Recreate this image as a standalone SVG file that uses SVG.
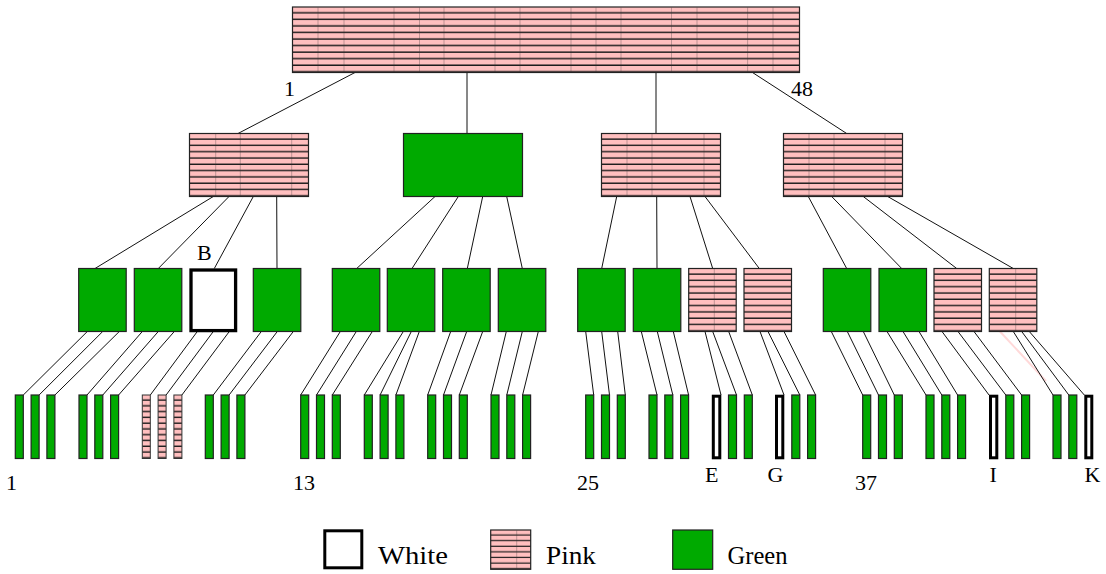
<svg xmlns="http://www.w3.org/2000/svg" width="1106" height="574" viewBox="0 0 1106 574">
<defs>
<pattern id="s10" patternUnits="objectBoundingBox" patternContentUnits="objectBoundingBox" width="1" height="0.1">
<rect width="1" height="0.1" fill="#ffbfbf"/><rect y="0.078" width="1" height="0.022" fill="#1a1a1a"/>
</pattern>
<pattern id="s11" patternUnits="objectBoundingBox" patternContentUnits="objectBoundingBox" width="1" height="0.090909">
<rect width="1" height="0.090909" fill="#ffbfbf"/><rect y="0.068909" width="1" height="0.022" fill="#1a1a1a"/>
</pattern>
<pattern id="s7" patternUnits="objectBoundingBox" patternContentUnits="objectBoundingBox" width="1" height="0.142857">
<rect width="1" height="0.142857" fill="#ffbfbf"/><rect y="0.112857" width="1" height="0.03" fill="#1a1a1a"/>
</pattern>
</defs>
<style>
.g{fill:#00aa00;stroke:#222;stroke-width:1.2}
.p{fill:url(#s10);stroke:#222;stroke-width:1.2}
.pl{fill:url(#s11);stroke:#333;stroke-width:1}
.w{fill:#fff;stroke:#000;stroke-width:3}
.c line{stroke:#111;stroke-width:1}
.tk line{stroke:#333;stroke-width:1;opacity:.3}
text{font-family:"Liberation Serif","Times New Roman",serif;font-size:22px;fill:#000}
</style>
<rect width="1106" height="574" fill="#fff"/>

<g id="connectors" class="c">
<line x1="355" y1="72.5" x2="238" y2="133.5"/>
<line x1="467" y1="72.5" x2="467" y2="133.5"/>
<line x1="656" y1="72.5" x2="656" y2="133.5"/>
<line x1="752.5" y1="72.5" x2="846.7" y2="133.5"/>

<line x1="213.3" y1="196.5" x2="95" y2="268.5"/>
<line x1="229" y1="196.5" x2="158.3" y2="268.5"/>
<line x1="253.3" y1="196.5" x2="214.3" y2="268.5"/>
<line x1="276.7" y1="196.5" x2="277" y2="268.5"/>
<line x1="435" y1="196.5" x2="356.7" y2="268.5"/>
<line x1="458.3" y1="196.5" x2="412" y2="268.5"/>
<line x1="482.7" y1="196.5" x2="467.3" y2="268.5"/>
<line x1="506.7" y1="196.5" x2="522.3" y2="268.5"/>
<line x1="616.7" y1="196.5" x2="601.7" y2="268.5"/>
<line x1="656.7" y1="196.5" x2="657" y2="268.5"/>
<line x1="690" y1="196.5" x2="712.7" y2="268.5"/>
<line x1="705" y1="196.5" x2="759.3" y2="268.5"/>
<line x1="808.3" y1="196.5" x2="846.7" y2="268.5"/>
<line x1="831.7" y1="196.5" x2="901.7" y2="268.5"/>
<line x1="863.3" y1="196.5" x2="956.7" y2="268.5"/>
<line x1="887.7" y1="196.5" x2="1013.3" y2="268.5"/>

<line x1="87.3" y1="331.5" x2="23.3" y2="395"/>
<line x1="102.7" y1="331.5" x2="39.1" y2="395"/>
<line x1="119.3" y1="331.5" x2="54.9" y2="395"/>
<line x1="142.3" y1="331.5" x2="87" y2="395"/>
<line x1="158.3" y1="331.5" x2="102.8" y2="395"/>
<line x1="174.3" y1="331.5" x2="118.6" y2="395"/>
<line x1="197.3" y1="331.5" x2="150.3" y2="395"/>
<line x1="213.3" y1="331.5" x2="166.1" y2="395"/>
<line x1="229.3" y1="331.5" x2="181.9" y2="395"/>
<line x1="261.3" y1="331.5" x2="213.3" y2="395"/>
<line x1="277.3" y1="331.5" x2="229.1" y2="395"/>
<line x1="293.3" y1="331.5" x2="244.9" y2="395"/>

<line x1="340.3" y1="331.5" x2="300.7" y2="395"/>
<line x1="356.3" y1="331.5" x2="316.5" y2="395"/>
<line x1="372.3" y1="331.5" x2="332.3" y2="395"/>
<line x1="403.3" y1="331.5" x2="364.3" y2="395"/>
<line x1="411.3" y1="331.5" x2="380.1" y2="395"/>
<line x1="419.3" y1="331.5" x2="395.9" y2="395"/>
<line x1="450.7" y1="331.5" x2="427.7" y2="395"/>
<line x1="466.7" y1="331.5" x2="443.5" y2="395"/>
<line x1="482.7" y1="331.5" x2="459.3" y2="395"/>
<line x1="506.3" y1="331.5" x2="491" y2="395"/>
<line x1="522.3" y1="331.5" x2="506.8" y2="395"/>
<line x1="538.3" y1="331.5" x2="522.6" y2="395"/>

<line x1="585.7" y1="331.5" x2="593.7" y2="395"/>
<line x1="601.7" y1="331.5" x2="609.5" y2="395"/>
<line x1="617.7" y1="331.5" x2="625.3" y2="395"/>
<line x1="641.3" y1="331.5" x2="657" y2="395"/>
<line x1="657.3" y1="331.5" x2="672.8" y2="395"/>
<line x1="673.3" y1="331.5" x2="688.6" y2="395"/>
<line x1="705" y1="331.5" x2="721" y2="395"/>
<line x1="712.7" y1="331.5" x2="736.5" y2="395"/>
<line x1="728.7" y1="331.5" x2="752.3" y2="395"/>
<line x1="760" y1="331.5" x2="784" y2="395"/>
<line x1="768" y1="331.5" x2="799.8" y2="395"/>
<line x1="784" y1="331.5" x2="815.6" y2="395"/>

<line x1="831.3" y1="331.5" x2="862.7" y2="395"/>
<line x1="847.3" y1="331.5" x2="878.5" y2="395"/>
<line x1="863.3" y1="331.5" x2="894.3" y2="395"/>
<line x1="887" y1="331.5" x2="926" y2="395"/>
<line x1="903" y1="331.5" x2="941.8" y2="395"/>
<line x1="919" y1="331.5" x2="957.6" y2="395"/>
<line x1="942" y1="331.5" x2="989" y2="395"/>
<line x1="958" y1="331.5" x2="1005.8" y2="395"/>
<line x1="974" y1="331.5" x2="1021.6" y2="395"/>
<line x1="1000" y1="331.5" x2="1046" y2="381" style="stroke:#ffd9d9;stroke-width:2"/>
<line x1="1013.3" y1="331.5" x2="1053" y2="395"/>
<line x1="1021.7" y1="331.5" x2="1068.8" y2="395"/>
<line x1="1029.3" y1="331.5" x2="1084.3" y2="395"/>
</g>

<g id="root">
<rect class="p" x="292.5" y="7" width="507" height="65.5"/>
<g class="tk"><line x1="318" y1="7.5" x2="318" y2="72"/><line x1="344" y1="7.5" x2="344" y2="72"/><line x1="394" y1="7.5" x2="394" y2="72"/><line x1="419.5" y1="7.5" x2="419.5" y2="72"/><line x1="444" y1="7.5" x2="444" y2="72"/><line x1="495" y1="7.5" x2="495" y2="72"/><line x1="520" y1="7.5" x2="520" y2="72"/><line x1="571" y1="7.5" x2="571" y2="72"/><line x1="596" y1="7.5" x2="596" y2="72"/><line x1="621" y1="7.5" x2="621" y2="72"/><line x1="671.5" y1="7.5" x2="671.5" y2="72"/><line x1="697" y1="7.5" x2="697" y2="72"/><line x1="747.6" y1="7.5" x2="747.6" y2="72"/><line x1="773" y1="7.5" x2="773" y2="72"/></g>
<text x="284" y="96">1</text>
<text x="791" y="96">48</text>
</g>

<g id="n2a"><rect class="p" x="189.5" y="133.5" width="119" height="63"/>
<g class="tk"><line x1="215.7" y1="134" x2="215.7" y2="196"/><line x1="240.3" y1="134" x2="240.3" y2="196"/><line x1="291.7" y1="134" x2="291.7" y2="196"/></g></g>
<g id="n2b"><rect class="g" x="403.5" y="133.5" width="119" height="63"/></g>
<g id="n2c"><rect class="p" x="601.5" y="133.5" width="119" height="63"/>
<g class="tk"><line x1="627" y1="134" x2="627" y2="196"/><line x1="652" y1="134" x2="652" y2="196"/><line x1="704" y1="134" x2="704" y2="196"/></g></g>
<g id="n2d"><rect class="p" x="783.5" y="133.5" width="119" height="63"/>
<g class="tk"><line x1="809" y1="134" x2="809" y2="196"/><line x1="834" y1="134" x2="834" y2="196"/><line x1="885" y1="134" x2="885" y2="196"/></g></g>

<g id="n3a1"><rect class="g" x="78.7" y="268.5" width="47.5" height="63"/></g>
<g id="n3a2"><rect class="g" x="134.3" y="268.5" width="47.5" height="63"/></g>
<g id="n3a3"><rect class="w" x="191" y="270" width="44.6" height="60.6" style="stroke-width:3.3"/><text x="197" y="260">B</text></g>
<g id="n3a4"><rect class="g" x="253.3" y="268.5" width="47.5" height="63"/></g>
<g id="n3b1"><rect class="g" x="332.3" y="268.5" width="47.5" height="63"/></g>
<g id="n3b2"><rect class="g" x="387.3" y="268.5" width="47.5" height="63"/></g>
<g id="n3b3"><rect class="g" x="442.7" y="268.5" width="47.5" height="63"/></g>
<g id="n3b4"><rect class="g" x="498.3" y="268.5" width="47.5" height="63"/></g>
<g id="n3c1"><rect class="g" x="577.7" y="268.5" width="47.5" height="63"/></g>
<g id="n3c2"><rect class="g" x="633.3" y="268.5" width="47.5" height="63"/></g>
<g id="n3c3"><rect class="p" x="688.7" y="268.5" width="47.5" height="63"/><g class="tk"><line x1="714.3" y1="269" x2="714.3" y2="331"/></g></g>
<g id="n3c4"><rect class="p" x="744" y="268.5" width="47.5" height="63"/></g>
<g id="n3d1"><rect class="g" x="823.3" y="268.5" width="47.5" height="63"/></g>
<g id="n3d2"><rect class="g" x="879" y="268.5" width="47.5" height="63"/></g>
<g id="n3d3"><rect class="p" x="934" y="268.5" width="47.5" height="63"/></g>
<g id="n3d4"><rect class="p" x="989.3" y="268.5" width="47.5" height="63"/><g class="tk"><line x1="1015.7" y1="269" x2="1015.7" y2="331"/></g></g>

<g id="leaves">
<g id="la1"><rect class="g" x="15.3" y="395" width="8" height="63.5"/><rect class="g" x="31.1" y="395" width="8" height="63.5"/><rect class="g" x="46.9" y="395" width="8" height="63.5"/></g>
<g id="la2"><rect class="g" x="79" y="395" width="8" height="63.5"/><rect class="g" x="94.8" y="395" width="8" height="63.5"/><rect class="g" x="110.6" y="395" width="8" height="63.5"/></g>
<g id="la3"><rect class="pl" x="142.3" y="395" width="8" height="63.5"/><rect class="pl" x="158.1" y="395" width="8" height="63.5"/><rect class="pl" x="173.9" y="395" width="8" height="63.5"/></g>
<g id="la4"><rect class="g" x="205.3" y="395" width="8" height="63.5"/><rect class="g" x="221.1" y="395" width="8" height="63.5"/><rect class="g" x="236.9" y="395" width="8" height="63.5"/></g>
<g id="lb1"><rect class="g" x="300.7" y="395" width="8" height="63.5"/><rect class="g" x="316.5" y="395" width="8" height="63.5"/><rect class="g" x="332.3" y="395" width="8" height="63.5"/></g>
<g id="lb2"><rect class="g" x="364.3" y="395" width="8" height="63.5"/><rect class="g" x="380.1" y="395" width="8" height="63.5"/><rect class="g" x="395.9" y="395" width="8" height="63.5"/></g>
<g id="lb3"><rect class="g" x="427.7" y="395" width="8" height="63.5"/><rect class="g" x="443.5" y="395" width="8" height="63.5"/><rect class="g" x="459.3" y="395" width="8" height="63.5"/></g>
<g id="lb4"><rect class="g" x="491" y="395" width="8" height="63.5"/><rect class="g" x="506.8" y="395" width="8" height="63.5"/><rect class="g" x="522.6" y="395" width="8" height="63.5"/></g>
<g id="lc1"><rect class="g" x="585.7" y="395" width="8" height="63.5"/><rect class="g" x="601.5" y="395" width="8" height="63.5"/><rect class="g" x="617.3" y="395" width="8" height="63.5"/></g>
<g id="lc2"><rect class="g" x="649" y="395" width="8" height="63.5"/><rect class="g" x="664.8" y="395" width="8" height="63.5"/><rect class="g" x="680.6" y="395" width="8" height="63.5"/></g>
<g id="lc3"><rect class="w" x="713.3" y="396.2" width="6.5" height="61.6"/><rect class="g" x="728.5" y="395" width="8" height="63.5"/><rect class="g" x="744.3" y="395" width="8" height="63.5"/></g>
<g id="lc4"><rect class="w" x="776.5" y="396.2" width="6.3" height="61.6"/><rect class="g" x="791.8" y="395" width="8" height="63.5"/><rect class="g" x="807.6" y="395" width="8" height="63.5"/></g>
<g id="ld1"><rect class="g" x="862.7" y="395" width="8" height="63.5"/><rect class="g" x="878.5" y="395" width="8" height="63.5"/><rect class="g" x="894.3" y="395" width="8" height="63.5"/></g>
<g id="ld2"><rect class="g" x="926" y="395" width="8" height="63.5"/><rect class="g" x="941.8" y="395" width="8" height="63.5"/><rect class="g" x="957.6" y="395" width="8" height="63.5"/></g>
<g id="ld3"><rect class="w" x="990.5" y="396.2" width="6.3" height="61.6"/><rect class="g" x="1005.8" y="395" width="8" height="63.5"/><rect class="g" x="1021.6" y="395" width="8" height="63.5"/></g>
<g id="ld4"><rect class="g" x="1053" y="395" width="8" height="63.5"/><rect class="g" x="1068.8" y="395" width="8" height="63.5"/><rect class="w" x="1085.8" y="396.2" width="6" height="61.6"/></g>
</g>

<g id="leaf-labels">
<text x="6" y="490">1</text>
<text x="293" y="490">13</text>
<text x="577" y="490">25</text>
<text x="855" y="490">37</text>
<text x="705" y="481.5">E</text>
<text x="767.5" y="481.5">G</text>
<text x="989.5" y="481.5">I</text>
<text x="1084.5" y="481.5">K</text>
</g>

<g id="legend">
<g id="leg-white"><rect class="w" x="324.8" y="530.8" width="37" height="37"/><text x="378" y="564" style="font-size:25px" textLength="70" lengthAdjust="spacingAndGlyphs">White</text></g>
<g id="leg-pink"><rect x="490.7" y="530" width="40" height="39.3" fill="url(#s7)" stroke="#222" stroke-width="1.2"/><g class="tk"><line x1="516.7" y1="530.5" x2="516.7" y2="569"/></g><text x="546" y="564" style="font-size:25px" textLength="50" lengthAdjust="spacingAndGlyphs">Pink</text></g>
<g id="leg-green"><rect class="g" x="672.7" y="530" width="40" height="39.3"/><text x="727.5" y="564" style="font-size:25px" textLength="60" lengthAdjust="spacingAndGlyphs">Green</text></g>
</g>
</svg>
